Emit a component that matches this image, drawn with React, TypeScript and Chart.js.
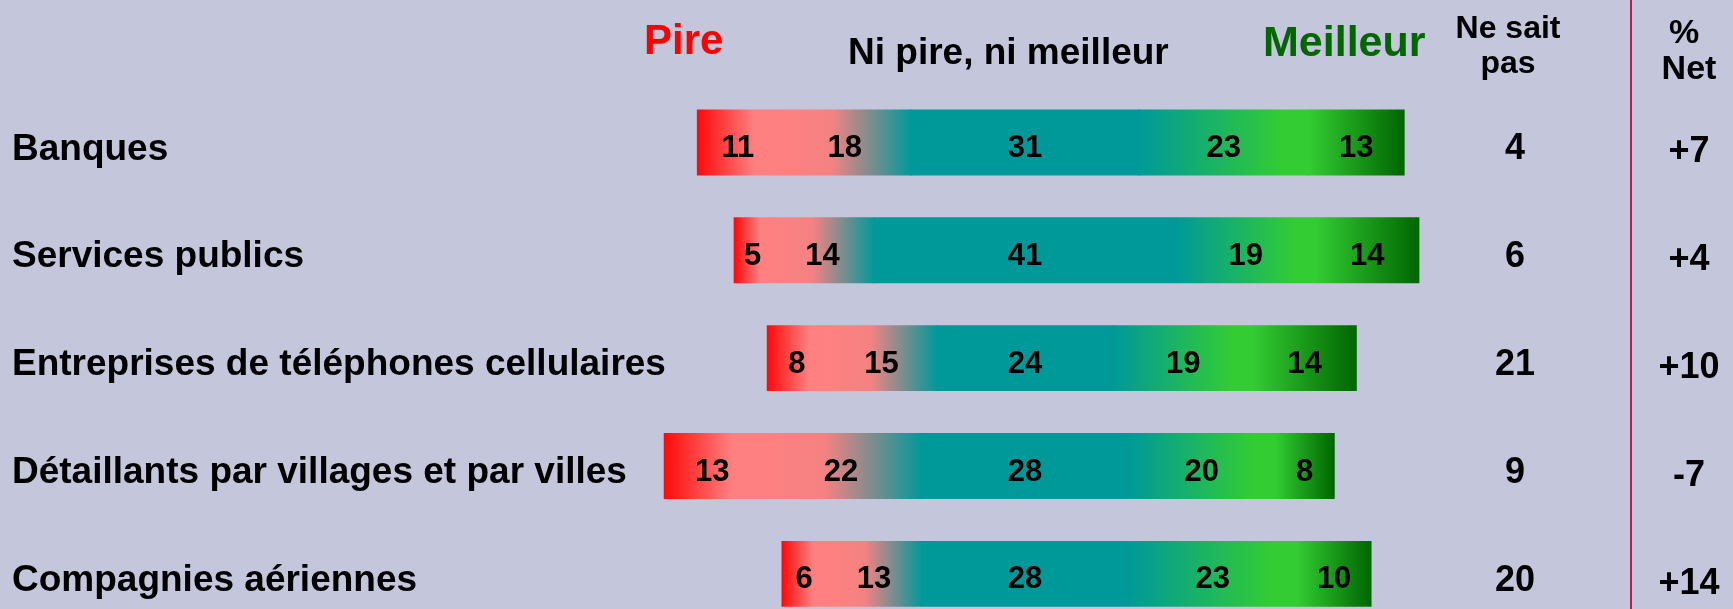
import { useEffect, useRef } from 'react';
import { Chart, registerables } from 'chart.js';

Chart.register(...registerables);

// ---------- data ----------
const categories = [
  'Banques',
  'Services publics',
  'Entreprises de téléphones cellulaires',
  'Détaillants par villages et par villes',
  'Compagnies aériennes',
];
const pire = [11, 5, 8, 13, 6];
const plutotPire = [18, 14, 15, 22, 13];
const neutre = [31, 41, 24, 28, 28];
const plutotMeilleur = [23, 19, 19, 20, 23];
const meilleur = [13, 14, 14, 8, 10];
const neSaitPas = [4, 6, 21, 9, 20];
const netPct = [7, 4, 10, -7, 14];

const headerPire = 'Pire';
const headerNeutre = 'Ni pire, ni meilleur';
const headerMeilleur = 'Meilleur';
const headerNsp = ['Ne sait', 'pas'];
const headerNet = ['%', 'Net'];

// ---------- styles ----------
const FONT = 'Arial, "Liberation Sans", Helvetica, sans-serif';
const BG = '#C4C6DC';

type Stop = [number, string];
const segStops: Stop[][] = [
  [[0, '#FF0A0A'], [0.7, '#FF8080'], [1, '#FF8080']],
  [[0, '#FF8080'], [0.4, '#F48282'], [1, '#009999']],
  [[0, '#009999'], [1, '#009999']],
  [[0, '#009999'], [0.85, '#33CC33'], [1, '#33CC33']],
  [[0, '#33CC33'], [1, '#006600']],
];
const segFallback = ['#FF4040', '#FF8080', '#009999', '#33CC33', '#006600'];

const series = [pire, plutotPire, neutre, plutotMeilleur, meilleur];
const seriesNames = ['Pire', 'Plutôt pire', 'Ni pire, ni meilleur', 'Plutôt meilleur', 'Meilleur'];

function buildRanges(): [number, number][][] {
  const out: [number, number][][] = series.map(() => []);
  categories.forEach((_, i) => {
    let start = -(neutre[i] / 2 + plutotPire[i] + pire[i]);
    series.forEach((s, k) => {
      out[k].push([start, start + s[i]]);
      start += s[i];
    });
  });
  return out;
}

const fmtNet = (n: number) => (n > 0 ? `+${n}` : `${n}`);

const overlayPlugin = {
  id: 'overlay',
  afterDatasetsDraw(chart: any) {
    const ctx: CanvasRenderingContext2D = chart.ctx;
    ctx.save();
    // segment value labels
    ctx.fillStyle = '#000';
    ctx.font = `bold 31px ${FONT}`;
    ctx.textAlign = 'center';
    ctx.textBaseline = 'middle';
    chart.data.datasets.forEach((_: any, di: number) => {
      const meta = chart.getDatasetMeta(di);
      meta.data.forEach((el: any, i: number) => {
        const p = el.getProps(['x', 'base', 'y'], true);
        ctx.fillText(String(series[di][i]), (p.x + p.base) / 2, p.y + 6);
      });
    });

    // right columns
    const yScale = chart.scales.y;
    ctx.font = `bold 36px ${FONT}`;
    categories.forEach((_, i) => {
      const y = yScale.getPixelForValue(i);
      ctx.fillText(String(neSaitPas[i]), 1515, y + 7);
      ctx.fillText(fmtNet(netPct[i]), 1689, y + 10);
    });

    // headers
    ctx.textBaseline = 'alphabetic';
    ctx.textAlign = 'left';
    ctx.font = `bold 42px ${FONT}`;
    ctx.fillStyle = '#FF0000';
    ctx.fillText(headerPire, 644, 54);
    ctx.font = `bold 43px ${FONT}`;
    ctx.fillStyle = '#006600';
    ctx.fillText(headerMeilleur, 1263, 56);
    ctx.font = `bold 37px ${FONT}`;
    ctx.fillStyle = '#000';
    ctx.fillText(headerNeutre, 848, 64);

    ctx.textAlign = 'center';
    ctx.font = `bold 32px ${FONT}`;
    ctx.fillText(headerNsp[0], 1508, 38);
    ctx.fillText(headerNsp[1], 1508, 73);
    ctx.font = `bold 34px ${FONT}`;
    ctx.fillText(headerNet[0], 1684, 43);
    ctx.fillText(headerNet[1], 1689, 79);

    // separator line
    ctx.strokeStyle = '#B81E4E';
    ctx.lineWidth = 2;
    ctx.beginPath();
    ctx.moveTo(1631, 0);
    ctx.lineTo(1631, chart.height);
    ctx.stroke();
    ctx.restore();
  },
};

export default function App() {
  const ref = useRef<HTMLCanvasElement>(null);

  useEffect(() => {
    const ranges = buildRanges();
    const chart = new Chart(ref.current as HTMLCanvasElement, {
      type: 'bar',
      data: {
        labels: categories,
        datasets: ranges.map((r, k) => ({
          label: seriesNames[k],
          data: r as any,
          grouped: false,
          clip: false,
          borderWidth: 0,
          inflateAmount: 0.6,
          categoryPercentage: 1,
          barPercentage: 0.6,
          backgroundColor: (c: any) => {
            const ch = c.chart;
            const xs = ch.scales && ch.scales.x;
            if (c.type !== 'data' || !xs || !ch.chartArea) return segFallback[k];
            const raw = c.raw as [number, number];
            const x0 = xs.getPixelForValue(raw[0]);
            const x1 = xs.getPixelForValue(raw[1]);
            if (!isFinite(x0) || !isFinite(x1) || x0 === x1) return segFallback[k];
            const g = ch.ctx.createLinearGradient(x0, 0, x1, 0);
            segStops[k].forEach(([o, col]) => g.addColorStop(o, col));
            return g;
          },
        })),
      },
      options: {
        indexAxis: 'y',
        animation: false,
        responsive: false,
        maintainAspectRatio: false,
        events: [],
        layout: { padding: { left: 12, right: 266.4, top: 88.5, bottom: 16.5 } },
        plugins: {
          legend: { display: false },
          tooltip: { enabled: false },
        },
        scales: {
          x: {
            type: 'linear',
            min: -48,
            max: 60,
            display: false,
          },
          y: {
            type: 'category',
            grid: { display: false },
            border: { display: false },
            afterFit: (scale: any) => {
              scale.width = 659.7;
            },
            ticks: {
              autoSkip: false,
              crossAlign: 'far',
              padding: 0,
              labelOffset: 7,
              color: '#000',
              font: { family: FONT, size: 37, weight: 'bold' },
            },
          },
        },
      },
      plugins: [overlayPlugin],
    } as any);
    return () => chart.destroy();
  }, []);

  return (
    <div
      style={{
        position: 'absolute',
        left: 0,
        top: 0,
        width: 1733,
        height: 609,
        overflow: 'hidden',
        background: BG,
      }}
    >
      <canvas
        ref={ref}
        width={1733}
        height={650}
        style={{ display: 'block', width: 1733, height: 650 }}
      />
    </div>
  );
}
